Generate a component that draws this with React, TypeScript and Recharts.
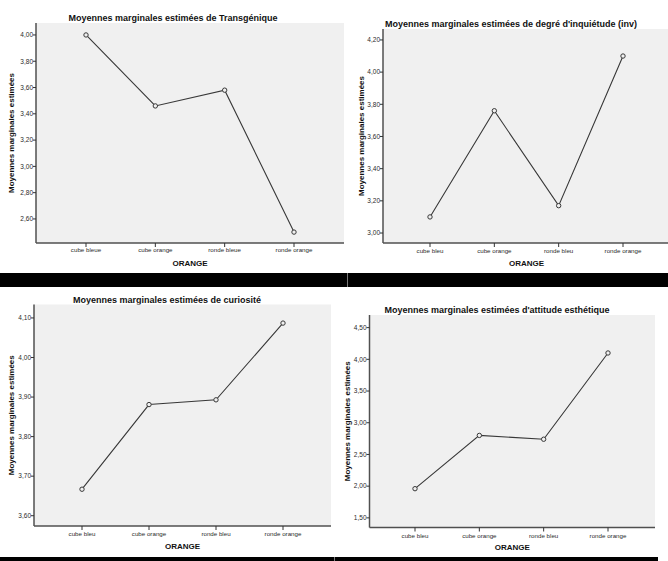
import React from 'react';
import { LineChart, Line, XAxis, YAxis, CartesianGrid } from 'recharts';

// categories of the ORANGE factor
const categoriesTransgenique = ['cube bleue', 'cube orange', 'ronde bleue', 'ronde orange'];
const categoriesOther = ['cube bleu', 'cube orange', 'ronde bleu', 'ronde orange'];

// estimated marginal means
const transgenique = [4.0, 3.46, 3.58, 2.5];
const inquietude = [3.1, 3.76, 3.17, 4.1];
const curiosite = [3.667, 3.881, 3.893, 4.087];
const esthetique = [1.96, 2.8, 2.74, 4.1];

// y tick labels
const ticksTransgenique = [2.6, 2.8, 3.0, 3.2, 3.4, 3.6, 3.8, 4.0];
const ticksInquietude = [3.0, 3.2, 3.4, 3.6, 3.8, 4.0, 4.2];
const ticksCuriosite = [3.6, 3.7, 3.8, 3.9, 4.0, 4.1];
const ticksEsthetique = [1.5, 2.0, 2.5, 3.0, 3.5, 4.0, 4.5];

const FONT = '"Liberation Sans", Arial, sans-serif';
const Y_LABEL = 'Moyennes marginales estimées';

const fmt = (v: number) => v.toFixed(2).replace('.', ',');

type PanelProps = {
  title: string;
  categories: string[];
  values: number[];
  ticks: number[];
  domain: [number, number];
  left: number;
  top: number;
  width: number;
  height: number;
  margin: { top: number; right: number; left: number; bottom: number };
  yWidth: number;
  xHeight: number;
  padding: { left: number; right: number };
  yLabelOffset: number;
  xLabelOffset: number;
  xTickMargin: number;
  titleX: number;
  titleY: number;
};

const Panel: React.FC<PanelProps> = (p) => {
  const data = p.categories.map((c, i) => ({ name: c, value: p.values[i] }));
  return (
    <>
      <div
        style={{
          position: 'absolute',
          left: p.titleX - 200,
          top: p.titleY - 6,
          width: 400,
          lineHeight: '12px',
          fontSize: 9,
          fontWeight: 'bold',
          textAlign: 'center',
          whiteSpace: 'nowrap',
          color: '#111',
          fontFamily: FONT,
        }}
      >
        {p.title}
      </div>
      <div style={{ position: 'absolute', left: p.left, top: p.top }}>
        <LineChart width={p.width} height={p.height} data={data} margin={p.margin}>
          <CartesianGrid fill="#f0f0f0" stroke="none" horizontal={false} vertical={false} />
          <XAxis
            dataKey="name"
            height={p.xHeight}
            padding={p.padding}
            interval={0}
            tickSize={4}
            tickMargin={p.xTickMargin}
            axisLine={{ stroke: '#505050', strokeWidth: 1.5 }}
            tickLine={{ stroke: '#333' }}
            tick={{ fontSize: 6.2, fill: '#2a2a2a', fontFamily: FONT }}
            label={{
              value: 'ORANGE',
              position: 'insideBottom',
              offset: p.xLabelOffset,
              style: { fontSize: 8, fontWeight: 'bold', fill: '#111', fontFamily: FONT },
            }}
          />
          <XAxis xAxisId="top" orientation="top" height={0} tick={false} tickLine={false} axisLine={{ stroke: '#8a8a8a' }} />
          <YAxis
            type="number"
            domain={p.domain}
            ticks={p.ticks}
            allowDataOverflow
            width={p.yWidth}
            tickSize={3}
            tickMargin={0}
            tickFormatter={fmt}
            axisLine={{ stroke: '#505050', strokeWidth: 1.5 }}
            tickLine={{ stroke: '#333' }}
            tick={{ fontSize: 6.5, fill: '#2a2a2a', fontFamily: FONT }}
            label={{
              value: Y_LABEL,
              angle: -90,
              position: 'insideLeft',
              offset: p.yLabelOffset,
              style: { textAnchor: 'middle', fontSize: 8, fontWeight: 'bold', fill: '#111', fontFamily: FONT },
            }}
          />
          <YAxis yAxisId="right" orientation="right" width={0} tick={false} tickLine={false} axisLine={{ stroke: '#8a8a8a' }} />
          <Line
            dataKey="value"
            stroke="#383838"
            strokeWidth={1.1}
            dot={{ r: 2.2, stroke: '#383838', strokeWidth: 1, fill: '#f0f0f0' }}
            isAnimationActive={false}
          />
        </LineChart>
      </div>
    </>
  );
};

export default function App() {
  return (
    <div
      style={{
        position: 'absolute',
        left: 0,
        top: 0,
        width: 668,
        height: 561,
        background: '#fff',
        overflow: 'hidden',
        fontFamily: FONT,
      }}
    >
      <Panel
        title="Moyennes marginales estimées de Transgénique"
        categories={categoriesTransgenique}
        values={transgenique}
        ticks={ticksTransgenique}
        domain={[2.417, 4.091]}
        left={0}
        top={0}
        width={350}
        height={273}
        margin={{ top: 23, right: 6, left: 0, bottom: 0 }}
        yWidth={36}
        xHeight={30}
        padding={{ left: 50, right: 50 }}
        yLabelOffset={11}
        xLabelOffset={7}
        xTickMargin={1}
        titleX={173}
        titleY={18}
      />
      <Panel
        title="Moyennes marginales estimées de degré d'inquiétude (inv)"
        categories={categoriesOther}
        values={inquietude}
        ticks={ticksInquietude}
        domain={[2.938, 4.268]}
        left={340}
        top={0}
        width={330}
        height={273}
        margin={{ top: 29, right: 0, left: 0, bottom: 0 }}
        yWidth={43}
        xHeight={30}
        padding={{ left: 47, right: 47 }}
        yLabelOffset={21}
        xLabelOffset={7}
        xTickMargin={2}
        titleX={511}
        titleY={24}
      />
      <Panel
        title="Moyennes marginales estimées de curiosité"
        categories={categoriesOther}
        values={curiosite}
        ticks={ticksCuriosite}
        domain={[3.574, 4.134]}
        left={0}
        top={287}
        width={340}
        height={270}
        margin={{ top: 17.5, right: 9, left: 0, bottom: 0 }}
        yWidth={34}
        xHeight={31}
        padding={{ left: 48, right: 48 }}
        yLabelOffset={11}
        xLabelOffset={8}
        xTickMargin={2}
        titleX={167}
        titleY={300}
      />
      <Panel
        title="Moyennes marginales estimées d'attitude esthétique"
        categories={categoriesOther}
        values={esthetique}
        ticks={ticksEsthetique}
        domain={[1.348, 4.699]}
        left={340}
        top={287}
        width={328}
        height={270}
        margin={{ top: 28, right: 13, left: 0, bottom: 0 }}
        yWidth={29.5}
        xHeight={29.5}
        padding={{ left: 45.5, right: 47 }}
        yLabelOffset={7}
        xLabelOffset={7}
        xTickMargin={2}
        titleX={497}
        titleY={310}
      />
      {/* black separators from the original screenshot */}
      <div style={{ position: 'absolute', left: 0, top: 273, width: 668, height: 14, background: '#000' }} />
      <div style={{ position: 'absolute', left: 347, top: 273, width: 1, height: 14, background: '#777' }} />
      <div style={{ position: 'absolute', left: 0, top: 557, width: 658, height: 4, background: '#000' }} />
      <div style={{ position: 'absolute', left: 334, top: 557, width: 1, height: 4, background: '#777' }} />
    </div>
  );
}
